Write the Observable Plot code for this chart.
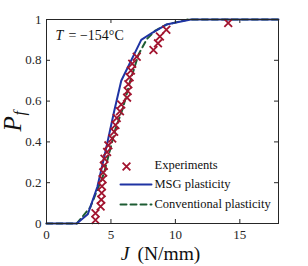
<!DOCTYPE html>
<html>
<head>
<meta charset="utf-8">
<script src="https://cdn.jsdelivr.net/npm/d3@7"></script>
<script src="https://cdn.jsdelivr.net/npm/@observablehq/plot@0.6"></script>
<style>
  html, body { margin: 0; padding: 0; background: #fff; }
  #chart { position: relative; width: 308px; height: 266px; }
  #chart svg, #chart svg text { font-family: "Liberation Serif", "DejaVu Serif", serif !important; }
</style>
</head>
<body>
<div id="chart"></div>
<script>
// Experiments
const expJ = [3.8, 3.8, 4.2, 4.25, 4.28, 4.3, 4.35, 4.4, 4.45, 4.5, 4.7, 4.8, 5.1, 5.25, 5.35, 5.45, 5.7, 5.8, 6.25, 6.3, 6.35, 6.45, 6.55, 6.65, 7.0, 8.3, 8.65, 8.8, 9.3, 14.1];
const expP = [0.017, 0.05, 0.083, 0.117, 0.15, 0.183, 0.217, 0.25, 0.283, 0.317, 0.35, 0.383, 0.417, 0.45, 0.483, 0.517, 0.55, 0.583, 0.617, 0.65, 0.683, 0.717, 0.75, 0.783, 0.817, 0.85, 0.883, 0.917, 0.95, 0.983];
// MSG plasticity
const msgJ = [0, 2.35, 3.2, 3.95, 4.6, 5.25, 5.8, 7.35, 8.2, 9.3, 11.2, 18];
const msgP = [0, 0, 0.045, 0.18, 0.36, 0.55, 0.70, 0.90, 0.935, 0.975, 1, 1];
// Conventional plasticity
const convJ = [0, 2.35, 2.65, 3.4, 4.45, 5.35, 5.9, 6.5, 7.15, 7.8, 8.45, 9.3, 11, 18];
const convP = [0, 0, 0.023, 0.08, 0.244, 0.464, 0.56, 0.70, 0.83, 0.905, 0.946, 0.975, 1, 1];
// Ticks
const xTicks = [0, 5, 10, 15];
const yTicks = [0, 0.2, 0.4, 0.6, 0.8, 1];
const yTickLabels = ["0", "0.2", "0.4", "0.6", "0.8", "1"];
// Labels
const seriesNames = ["Experiments", "MSG plasticity", "Conventional plasticity"];
const tempLabel = ["T", "= \u2212154\u00b0C"];

const red = "#a2142f", blue = "#1f33a3", green = "#1d5c33", axisCol = "#262626";
const ff = "Liberation Serif";

const exp = expJ.map((j, i) => ({J: j, P: expP[i]}));
const msg = msgJ.map((j, i) => ({J: j, P: msgP[i]}));
const conv = convJ.map((j, i) => ({J: j, P: convP[i]}));

const lineShape = {draw(context, l) { context.moveTo(0, 0); context.lineTo(0, -l); }};
const legendText = (i) => Plot.text([seriesNames[i]], {frameAnchor: "top-left", dx: 108, dy: 145 + i * 19.5, lineAnchor: "middle", textAnchor: "start", fontSize: 12.5, fontFamily: ff, fill: "#111"});

const plot = Plot.plot({
  width: 308,
  height: 266,
  marginLeft: 46,
  marginRight: 30,
  marginTop: 19,
  marginBottom: 43,
  style: {fontFamily: "Liberation Serif, serif", background: "#fff", color: axisCol},
  x: {domain: [0, 18], ticks: xTicks},
  y: {domain: [0, 1], ticks: yTicks},
  marks: [
    Plot.line(conv, {x: "J", y: "P", stroke: green, strokeWidth: 2, strokeDasharray: "6,4"}),
    Plot.line(msg, {x: "J", y: "P", stroke: blue, strokeWidth: 2}),
    Plot.dot(exp, {x: "J", y: "P", symbol: "times", r: 3.6, stroke: red, strokeWidth: 1.8}),
    Plot.frame({stroke: axisCol, strokeWidth: 1}),
    // inward ticks
    Plot.tickX(xTicks, {x: d => d, insetTop: 200, stroke: axisCol}),
    Plot.tickX(xTicks, {x: d => d, insetBottom: 200, stroke: axisCol}),
    Plot.tickY(yTicks, {y: d => d, insetRight: 228, stroke: axisCol}),
    Plot.tickY(yTicks, {y: d => d, insetLeft: 228, stroke: axisCol}),
    Plot.axisX({ticks: xTicks, tickSize: 0, tickPadding: 6, fontSize: 13, fontFamily: ff, label: null}),
    Plot.axisY({ticks: yTicks, tickSize: 0, tickPadding: 5, fontSize: 13, fontFamily: ff, label: null,
      tickFormat: d => yTickLabels[yTicks.indexOf(d)]}),
    // axis titles
    Plot.text(["J"], {frameAnchor: "bottom", dx: -33, dy: 36, lineAnchor: "bottom", textAnchor: "end", fontSize: 19.5, fontFamily: ff, fontStyle: "italic", fill: "#111"}),
    Plot.text(["(N/mm)"], {frameAnchor: "bottom", dx: -25, dy: 36, lineAnchor: "bottom", textAnchor: "start", fontSize: 19.5, fontFamily: ff, fill: "#111"}),
    Plot.text(["P"], {frameAnchor: "left", dx: -26, dy: 10, rotate: -90, lineAnchor: "bottom", textAnchor: "start", fontSize: 25, fontFamily: ff, fontStyle: "italic", fill: "#111"}),
    Plot.text(["f"], {frameAnchor: "left", dx: -22, dy: -6, rotate: -90, lineAnchor: "bottom", textAnchor: "start", fontSize: 16, fontFamily: ff, fontStyle: "italic", fill: "#111"}),
    // temperature annotation
    Plot.text([tempLabel[0]], {frameAnchor: "top-left", dx: 9, dy: 16, lineAnchor: "middle", textAnchor: "start", fontSize: 14, fontFamily: ff, fontStyle: "italic", fill: "#111"}),
    Plot.text([tempLabel[1]], {frameAnchor: "top-left", dx: 22, dy: 16, lineAnchor: "middle", textAnchor: "start", fontSize: 14, fontFamily: ff, fill: "#111"}),
    // legend
    Plot.dot([seriesNames[0]], {frameAnchor: "top-left", dx: 80, dy: 147, symbol: "times", r: 3.6, stroke: red, strokeWidth: 1.8}),
    Plot.vector([seriesNames[1]], {frameAnchor: "top-left", dx: 74, dy: 165, length: 31, rotate: 90, anchor: "start", shape: lineShape, stroke: blue, strokeWidth: 2}),
    Plot.vector([seriesNames[2]], {frameAnchor: "top-left", dx: 74, dy: 185, length: 31, rotate: 90, anchor: "start", shape: lineShape, stroke: green, strokeWidth: 2, strokeDasharray: "6,4"}),
    legendText(0),
    legendText(1),
    legendText(2)
  ]
});
document.getElementById("chart").appendChild(plot);
</script>
</body>
</html>
